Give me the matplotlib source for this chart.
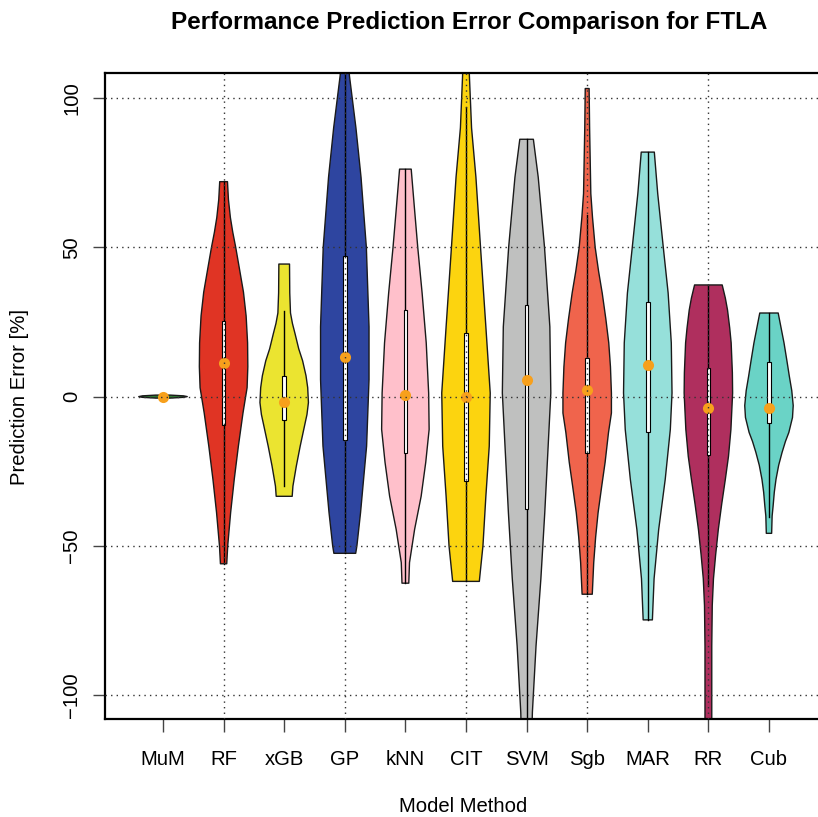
import matplotlib.pyplot as plt
from matplotlib.patches import Rectangle

plt.rcParams['font.family'] = ['Liberation Sans', 'DejaVu Sans']

# model methods in plotting order
methods = ['MuM', 'RF', 'xGB', 'GP', 'kNN', 'CIT', 'SVM', 'Sgb', 'MAR', 'RR', 'Cub']
colors = ['#2E7D32', '#E03424', '#EBE430', '#2E45A0', '#FFC0CB', '#FCD40F',
          '#BFC0BF', '#F0644C', '#96E0DA', '#AF2F5E', '#6AD3C6']

# violin outlines: error levels [%] and relative density
dens_y = [
    [0.5, 0.25, 0, -0.25, -0.5],
    [72, 66, 60, 55, 50, 43, 35, 27, 18, 10, 3, -5.5, -16.6, -27.7, -38.9, -50, -56],
    [44.4, 34.7, 28, 24.5, 21, 16, 12, 7, 3, -2, -6, -9, -16.6, -23.3, -30, -33.4],
    [118, 107.6, 90, 73.5, 50, 23.4, 5.7, -16.6, -38.9, -50, -52.5],
    [76.2, 62.5, 50, 34.7, 18, 1.2, -11, -22, -33.4, -44.5, -55.6, -62.5],
    [118, 107.6, 90, 73.5, 50, 23.4, 1.2, -16.6, -33.4, -50, -61.9],
    [86.2, 73.5, 50, 23.4, 1.2, -16.6, -38.9, -61, -83.5, -105.7, -118],
    [103.2, 90, 68, 60, 50, 42, 34.7, 26, 18, 10, 1.2, -5.5, -12, -22, -30, -38.9, -47, -55.6, -66.2],
    [81.9, 68, 50, 34.7, 18, 1.2, -11, -27.7, -44.5, -61, -74.8],
    [37.4, 33, 29, 23, 18, 8, 1.2, -11, -20, -27.7, -36, -44.5, -53, -61, -70, -83.5, -118],
    [28, 23, 18, 12, 6.8, 2, -3, -7, -12, -15, -18.7, -23, -27.7, -32, -36.7, -40, -45.8],
]
dens_w = [
    [0.3, 0.85, 1.0, 0.85, 0.3],
    [0.16, 0.2, 0.28, 0.38, 0.5, 0.65, 0.82, 0.93, 0.99, 1.0, 0.97, 0.8, 0.61, 0.44, 0.29, 0.17, 0.13],
    [0.22, 0.23, 0.26, 0.34, 0.45, 0.6, 0.76, 0.9, 0.97, 1.0, 0.94, 0.86, 0.66, 0.5, 0.36, 0.33],
    [0.14, 0.19, 0.46, 0.67, 0.89, 1.0, 1.0, 0.9, 0.65, 0.5, 0.45],
    [0.24, 0.38, 0.51, 0.69, 0.86, 0.96, 0.98, 0.84, 0.65, 0.38, 0.17, 0.14],
    [0.1, 0.14, 0.23, 0.41, 0.6, 0.82, 1.0, 0.96, 0.82, 0.7, 0.55],
    [0.28, 0.48, 0.74, 0.96, 1.0, 0.89, 0.75, 0.59, 0.39, 0.24, 0.2],
    [0.08, 0.1, 0.15, 0.22, 0.33, 0.47, 0.62, 0.77, 0.89, 0.96, 1.0, 1.0, 0.88, 0.74, 0.6, 0.45, 0.35, 0.27, 0.21],
    [0.27, 0.41, 0.64, 0.84, 0.97, 1.0, 0.93, 0.72, 0.45, 0.26, 0.19],
    [0.57, 0.7, 0.79, 0.88, 0.94, 0.99, 1.0, 0.93, 0.83, 0.7, 0.55, 0.41, 0.3, 0.21, 0.16, 0.14, 0.14],
    [0.38, 0.5, 0.62, 0.74, 0.84, 0.94, 1.0, 0.97, 0.82, 0.68, 0.54, 0.4, 0.29, 0.22, 0.17, 0.13, 0.11],
]

# box plot statistics [%]
medians = [0, 11.3, -1.9, 13.4, 0.4, -0.2, 5.7, 2.3, 10.7, -3.7, -3.7]
q1 = [-0.1, -9.6, -7.8, -14.6, -19, -28.4, -37.5, -19, -12, -19.7, -9]
q3 = [0.1, 25.4, 6.8, 47.1, 29, 21.4, 30.7, 13, 31.6, 9.7, 11.7]
whisk_lo = [-0.4, -56, -29.8, -52.5, -62.5, -61.9, -118, -66.2, -74.8, -63.5, -40.5]
whisk_hi = [0.4, 72, 28.7, 118, 76.2, 97, 86.2, 60.8, 81.9, 37.4, 28]

fig = plt.figure(figsize=(8.18, 8.17), dpi=100)
ax = fig.add_axes([105 / 818, 98 / 817, 717 / 818, 646 / 817])

half = 0.4
for i, m in enumerate(methods):
    pos = i + 1
    ys = dens_y[i]
    ws = dens_w[i]
    xs = [pos - w * half for w in ws] + [pos + w * half for w in ws[::-1]]
    yy = ys + ys[::-1]
    ax.fill(xs, yy, facecolor=colors[i], edgecolor='#1a1a1a', linewidth=1.0,
            joinstyle='round', zorder=1)
    ax.plot([pos, pos], [whisk_lo[i], q1[i]], color='black', linewidth=1.0, zorder=2)
    ax.plot([pos, pos], [q3[i], whisk_hi[i]], color='black', linewidth=1.0, zorder=2)
    ax.add_patch(Rectangle((pos - 0.03, q1[i]), 0.06, q3[i] - q1[i], facecolor='white',
                           edgecolor='black', linewidth=0.8, zorder=3))
    ax.plot(pos, medians[i], 'o', color='#F7A01C', markersize=8, markeredgewidth=0, zorder=4)

# dotted grid drawn on top, like R's grid()
for gy in [-100, -50, 0, 50, 100]:
    ax.axhline(gy, color='#333333', linewidth=1.0, linestyle=(0, (1, 3)), zorder=5)
for gx in [2, 4, 6, 8, 10]:
    ax.axvline(gx, color='#333333', linewidth=1.0, linestyle=(0, (1, 3)), zorder=5)

ax.set_xlim(0.043, 11.875)
ax.set_ylim(-108.0, 108.4)
ax.set_xticks(range(1, len(methods) + 1))
ax.set_xticklabels(methods)
ax.set_yticks([-100, -50, 0, 50, 100])
ax.set_yticklabels(['\u2212100', '\u221250', '0', '50', '100'])
ax.tick_params(axis='both', labelsize=14.6, length=9, width=1.0, color='#444444')
ax.tick_params(axis='x', pad=13)
ax.tick_params(axis='y', pad=8)
for lab in ax.get_yticklabels():
    lab.set_rotation(90)
    lab.set_va('center')
for s in ax.spines.values():
    s.set_linewidth(1.6)

fig.text(0.573, 1 - 23 / 817, 'Performance Prediction Error Comparison for FTLA',
         ha='center', va='center', fontsize=17.5, fontweight='bold')
fig.text(463.5 / 818, 1 - 807 / 817, 'Model Method', ha='center', va='center', fontsize=14.6)
fig.text(20 / 818, 1 - 397 / 817, 'Prediction Error [%]', ha='center', va='center',
         rotation=90, fontsize=14.6)

fig.savefig('out.png', dpi=100)
